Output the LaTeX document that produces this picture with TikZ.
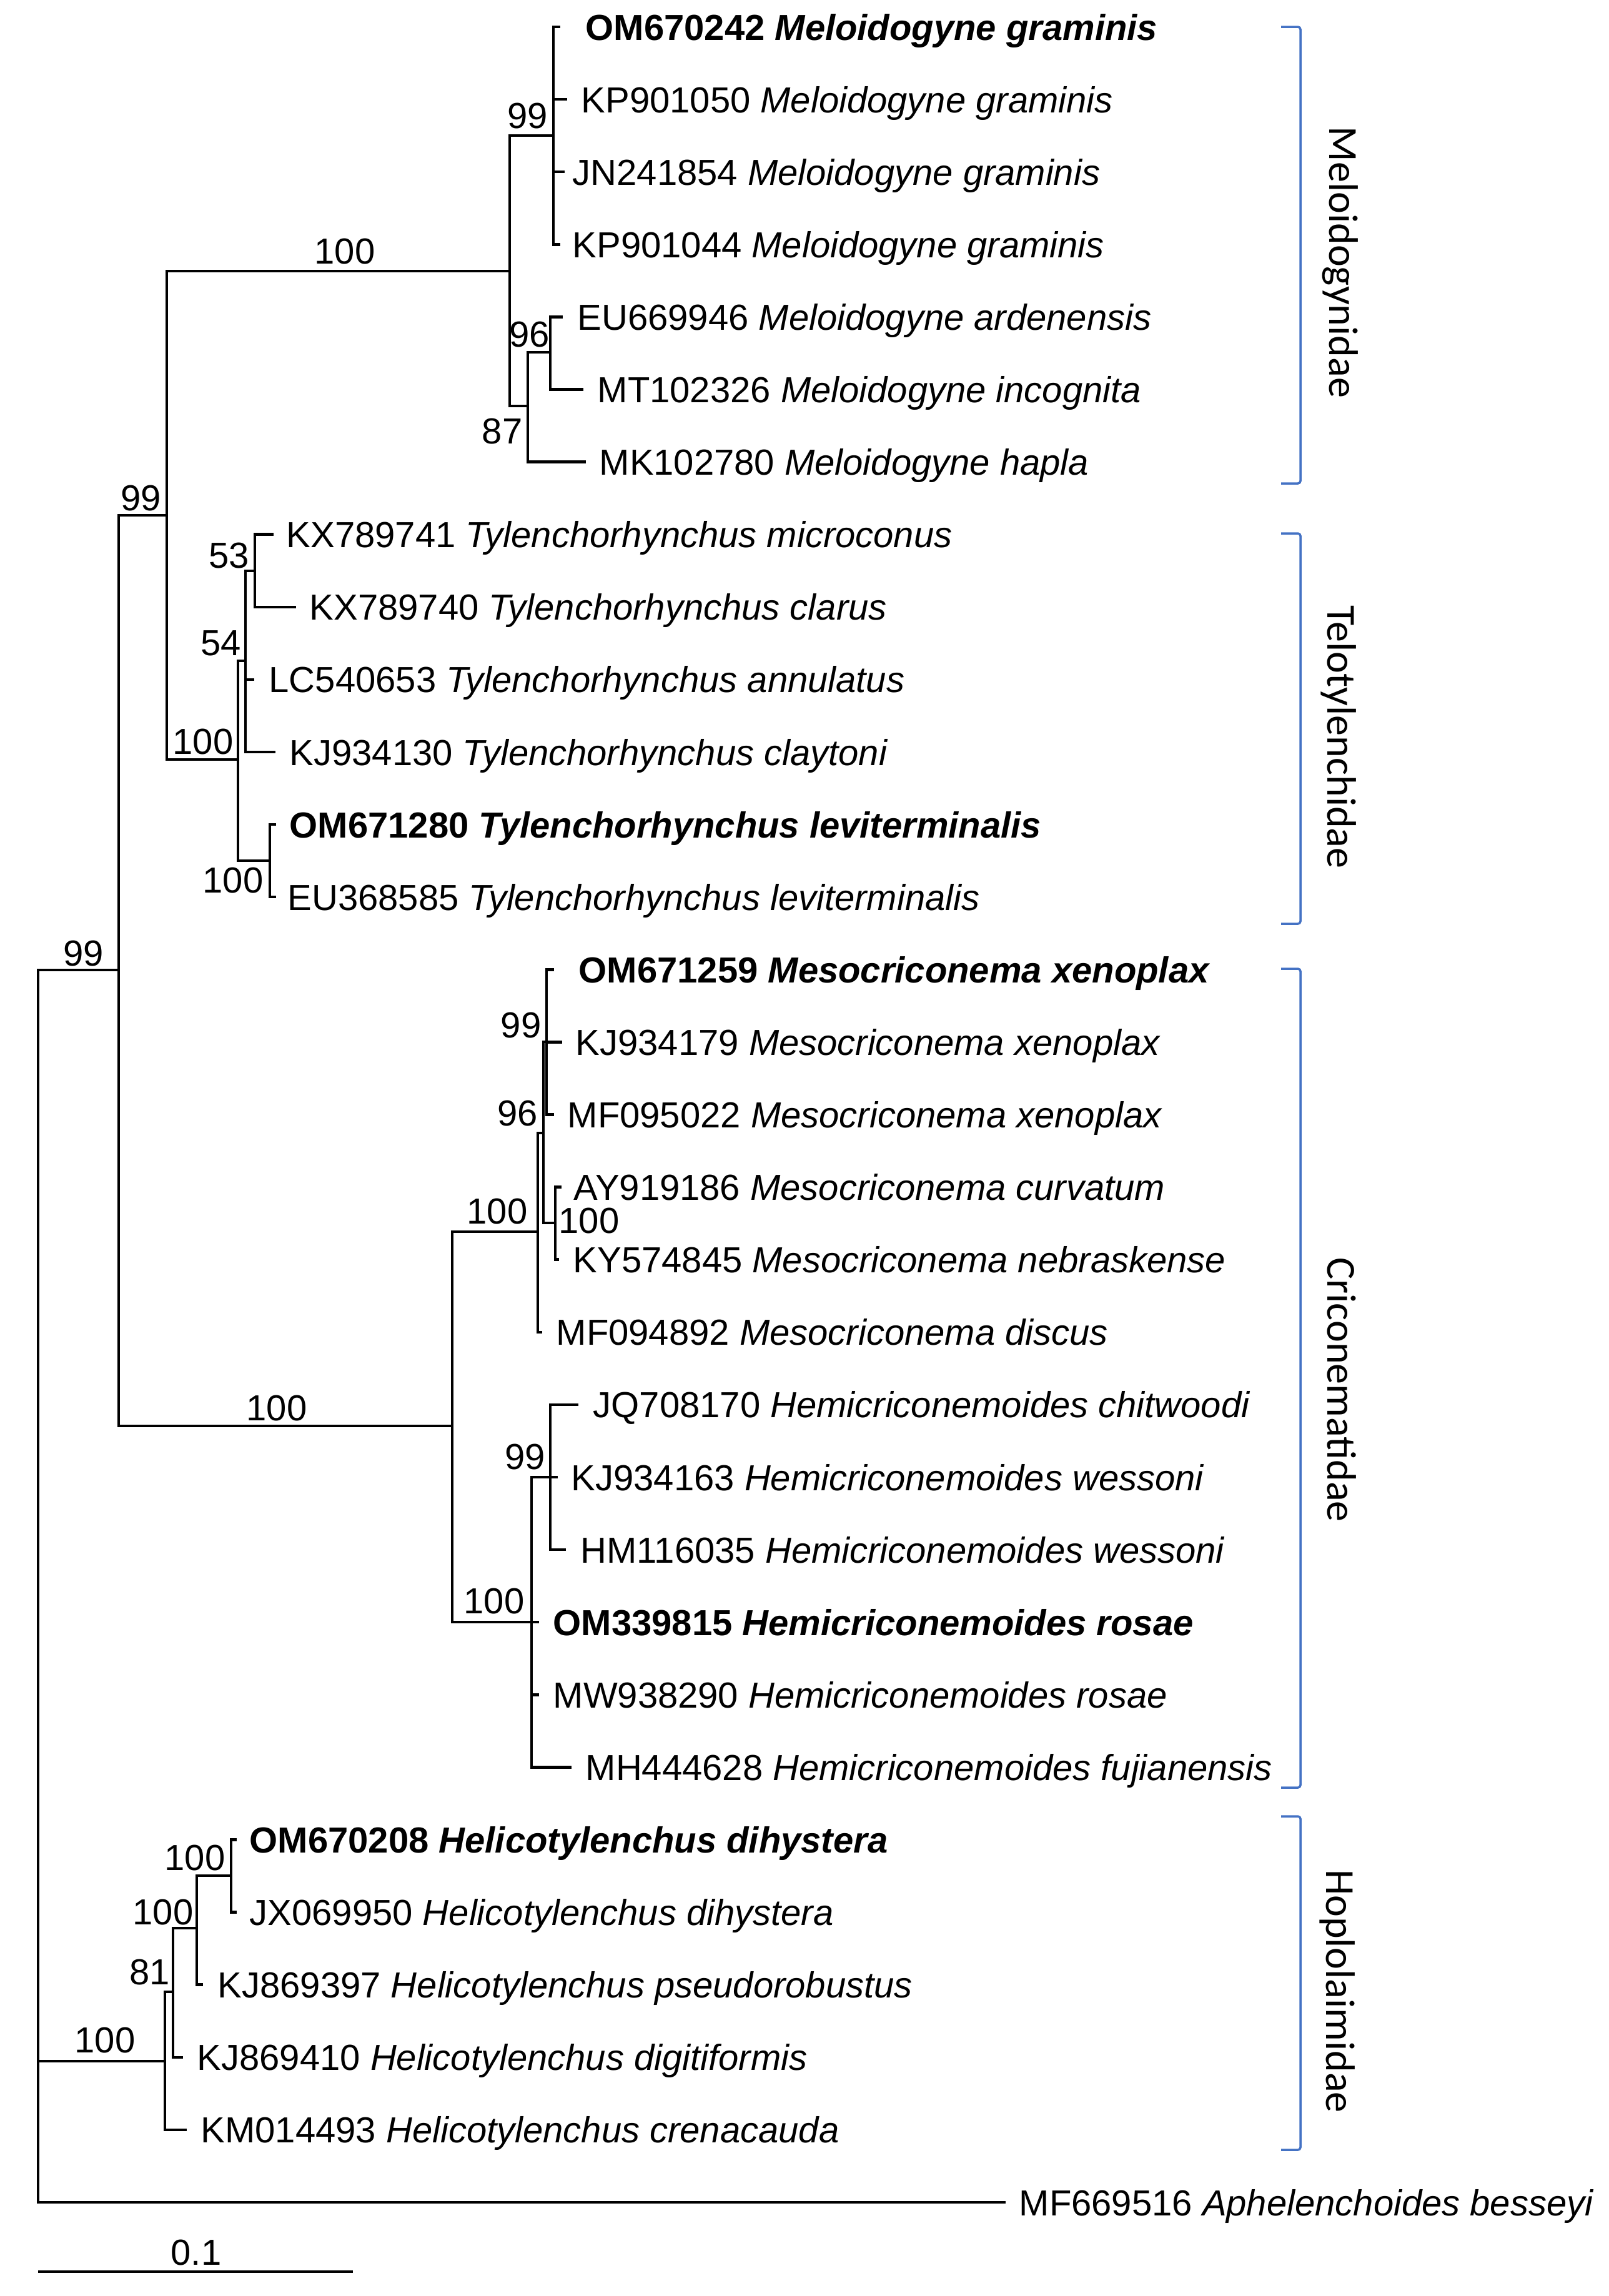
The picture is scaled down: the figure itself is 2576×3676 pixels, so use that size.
\documentclass[tikz,border=0pt]{standalone}
\usepackage{fontspec}
\setmainfont{Liberation Sans}
\newfontfamily\familyfont{Carlito}
\definecolor{cladeblue}{HTML}{4472C4}
\tikzset{
  branch/.style={line width=0.45mm, line cap=rect},
  tip/.style={anchor=base west, inner sep=0pt, font=\fontsize{16.5pt}{19pt}\selectfont},
  boot/.style={inner sep=0pt, font=\fontsize{16.5pt}{19pt}\selectfont},
  clade/.style={draw=cladeblue, line width=0.35mm, rounded corners=0.4mm},
  cladelabel/.style={anchor=base, rotate=-90, inner sep=0pt, font=\familyfont\fontsize{18.8pt}{21pt}\selectfont}
}
\begin{document}
\begin{tikzpicture}[x=0.1mm, y=-0.1mm]
  \useasboundingbox (0,0) rectangle (2576,3676);
  % leaves: end of branch, start of label
  \foreach \ex/\lx/\ac/\sp/\fw [count=\i from 0] in {
    895/937/OM670242/Meloidogyne graminis/\bfseries,
    906/930/KP901050/Meloidogyne graminis/\mdseries,
    902/916/JN241854/Meloidogyne graminis/\mdseries,
    895/916/KP901044/Meloidogyne graminis/\mdseries,
    899/924/EU669946/Meloidogyne ardenensis/\mdseries,
    932/956/MT102326/Meloidogyne incognita/\mdseries,
    936/959/MK102780/Meloidogyne hapla/\mdseries,
    436/458/KX789741/Tylenchorhynchus microconus/\mdseries,
    472/495/KX789740/Tylenchorhynchus clarus/\mdseries,
    405/430/LC540653/Tylenchorhynchus annulatus/\mdseries,
    439/463/KJ934130/Tylenchorhynchus claytoni/\mdseries,
    440/463/OM671280/Tylenchorhynchus leviterminalis/\bfseries,
    440/460/EU368585/Tylenchorhynchus leviterminalis/\mdseries,
    885/926/OM671259/Mesocriconema xenoplax/\bfseries,
    898/921/KJ934179/Mesocriconema xenoplax/\mdseries,
    885/908/MF095022/Mesocriconema xenoplax/\mdseries,
    897/918/AY919186/Mesocriconema curvatum/\mdseries,
    893/917/KY574845/Mesocriconema nebraskense/\mdseries,
    866/890/MF094892/Mesocriconema discus/\mdseries,
    924/949/JQ708170/Hemicriconemoides chitwoodi/\mdseries,
    891/914/KJ934163/Hemicriconemoides wessoni/\mdseries,
    904/929/HM116035/Hemicriconemoides wessoni/\mdseries,
    861/885/OM339815/Hemicriconemoides rosae/\bfseries,
    861/885/MW938290/Hemicriconemoides rosae/\mdseries,
    913/937/MH444628/Hemicriconemoides fujianensis/\mdseries,
    377/399/OM670208/Helicotylenchus dihystera/\bfseries,
    377/399/JX069950/Helicotylenchus dihystera/\mdseries,
    323/348/KJ869397/Helicotylenchus pseudorobustus/\mdseries,
    291/315/KJ869410/Helicotylenchus digitiformis/\mdseries,
    297/321/KM014493/Helicotylenchus crenacauda/\mdseries,
    1608/1631/MF669516/Aphelenchoides besseyi/\mdseries}{
    \coordinate (t\i) at (\ex,{43+116.1*\i});
    \node[tip] (l\i) at (\lx,{64+116.1*\i}) {\fw\ac{} \textit{\sp}};
  }
  % inner nodes
  \coordinate (root) at (61,2540);
  \coordinate (A) at (190,1553);
  \coordinate (B) at (267,825);
  \coordinate (M) at (816,434);
  \coordinate (M1) at (886,217);
  \coordinate (M2) at (845,650);
  \coordinate (M3) at (881,564);
  \coordinate (T) at (381,1216);
  \coordinate (T1) at (393,1058);
  \coordinate (T2) at (408,914);
  \coordinate (T4) at (432,1378);
  \coordinate (C) at (724,2283);
  \coordinate (Ms) at (861,1972);
  \coordinate (Ms1) at (870,1814);
  \coordinate (Ms2) at (875,1668);
  \coordinate (Ms3) at (889,1958);
  \coordinate (Hm) at (851,2597);
  \coordinate (Hm1) at (881,2365);
  \coordinate (H) at (264,3300);
  \coordinate (H1) at (277,3189);
  \coordinate (H2) at (315,3087);
  \coordinate (H3) at (370,3003);
  % branches
  \draw[branch] (root) |- (A) (root) |- (H) (root) |- (t30);
  \draw[branch] (A) |- (B) (A) |- (C);
  \draw[branch] (B) |- (M) (B) |- (T);
  \draw[branch] (M) |- (M1) (M) |- (M2);
  \draw[branch] (M1) |- (t0) (M1) |- (t1) (M1) |- (t2) (M1) |- (t3);
  \draw[branch] (M2) |- (M3) (M2) |- (t6);
  \draw[branch] (M3) |- (t4) (M3) |- (t5);
  \draw[branch] (T) |- (T1) (T) |- (T4);
  \draw[branch] (T1) |- (T2) (T1) |- (t9) (T1) |- (t10);
  \draw[branch] (T2) |- (t7) (T2) |- (t8);
  \draw[branch] (T4) |- (t11) (T4) |- (t12);
  \draw[branch] (C) |- (Ms) (C) |- (Hm);
  \draw[branch] (Ms) |- (Ms1) (Ms) |- (t18);
  \draw[branch] (Ms1) |- (Ms2) (Ms1) |- (Ms3);
  \draw[branch] (Ms2) |- (t13) (Ms2) |- (t14) (Ms2) |- (t15);
  \draw[branch] (Ms3) |- (t16) (Ms3) |- (t17);
  \draw[branch] (Hm) |- (Hm1) (Hm) |- (t22) (Hm) |- (t23) (Hm) |- (t24);
  \draw[branch] (Hm1) |- (t19) (Hm1) |- (t20) (Hm1) |- (t21);
  \draw[branch] (H) |- (H1) (H) |- (t29);
  \draw[branch] (H1) |- (H2) (H1) |- (t28);
  \draw[branch] (H2) |- (H3) (H2) |- (t27);
  \draw[branch] (H3) |- (t25) (H3) |- (t26);
  % bootstrap values
  \node[boot] (bA) at (134,1527) {99};
  \node[boot] (bB) at (226,798) {99};
  \node[boot] (bM) at (552,403) {100};
  \node[boot] (bM1) at (845,186) {99};
  \node[boot] (bM2) at (804,691) {87};
  \node[boot] (bM3) at (848,536) {96};
  \node[boot] (bT) at (325,1188) {100};
  \node[boot] (bT1) at (354,1030) {54};
  \node[boot] (bT2) at (367,890) {53};
  \node[boot] (bT4) at (373,1410) {100};
  \node[boot] (bC) at (443,2255) {100};
  \node[boot] (bMs) at (796,1940) {100};
  \node[boot] (bMs1) at (829,1783) {96};
  \node[boot] (bMs2) at (834,1642) {99};
  \node[boot] (bMs3) at (943,1955) {100};
  \node[boot] (bHm) at (791,2564) {100};
  \node[boot] (bHm1) at (841,2333) {99};
  \node[boot] (bH) at (168,3266) {100};
  \node[boot] (bH1) at (240,3157) {81};
  \node[boot] (bH2) at (261,3061) {100};
  \node[boot] (bH3) at (312,2974) {100};
  % families
  \draw[clade] (2051,43) -- (2082,43) -- (2082,774) -- (2051,774);
  \draw[clade] (2051,854) -- (2082,854) -- (2082,1479) -- (2051,1479);
  \draw[clade] (2051,1551) -- (2082,1551) -- (2082,2862) -- (2051,2862);
  \draw[clade] (2051,2908) -- (2082,2908) -- (2082,3442) -- (2051,3442);
  \node[cladelabel] (fMel) at (2128,420) {Meloidogynidae};
  \node[cladelabel] (fTel) at (2125,1180) {Telotylenchidae};
  \node[cladelabel] (fCri) at (2125,2225) {Criconematidae};
  \node[cladelabel] (fHop) at (2123,3188) {Hoplolaimidae};
  % scale bar
  \coordinate (s0) at (61,3637);
  \coordinate (s1) at (565,3637);
  \draw[branch, line cap=butt] (s0) -- (s1);
  \node[boot] (sbar) at (314,3606) {0.1};
\end{tikzpicture}
\end{document}
